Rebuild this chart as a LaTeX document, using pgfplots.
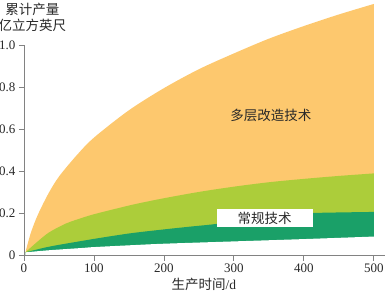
\documentclass[border=0pt]{standalone}
\usepackage{fontspec}
\setmainfont{Liberation Serif}
\newfontfamily\cjk{Noto Sans CJK SC}
\usepackage{pgfplots}
\pgfplotsset{compat=1.18}
\definecolor{orangeA}{RGB}{253,200,110}
\definecolor{lgreen}{RGB}{172,205,58}
\definecolor{dgreen}{RGB}{26,160,104}
\definecolor{axgray}{RGB}{130,130,130}
\definecolor{txt}{RGB}{40,40,40}
\begin{document}
\begin{tikzpicture}
\path[use as bounding box] (-24pt,-36.5pt) rectangle (363pt,255.5pt);
\begin{axis}[
  anchor=origin, at={(0pt,0pt)},
  scale only axis, width=361pt, height=210.5pt,
  xmin=0, xmax=516, ymin=0, ymax=1,
  axis lines*=left,
  axis line style={axgray, line width=0.8pt, -},
  clip=false, axis on top,
  xtick={0,100,200,300,400,500},
  ytick={0,0.2,0.4,0.6,0.8,1.0},
  yticklabels={0,0.2,0.4,0.6,0.8,1.0},
  tick align=outside, major tick length=5pt,
  tick style={axgray, line width=0.8pt},
  tick label style={font=\fontsize{13}{15}\selectfont, text=txt},
  /pgf/number format/assume math mode=true,
]
\addplot[fill=orangeA, draw=none, smooth] coordinates {
(2,0.015)(10,0.11)(20,0.195)(35,0.295)(50,0.375)(75,0.475)(100,0.56)(150,0.69)(200,0.795)(250,0.885)(300,0.96)(350,1.03)(400,1.09)(450,1.145)(500,1.195)} \closedcycle;
\addplot[fill=lgreen, draw=none, smooth] coordinates {
(2,0.015)(20,0.068)(36,0.11)(60,0.152)(84,0.18)(100,0.196)(131,0.222)(160,0.245)(200,0.272)(250,0.302)(300,0.327)(350,0.348)(400,0.364)(450,0.378)(500,0.39)} \closedcycle;
\addplot[fill=dgreen, draw=none, smooth] coordinates {
(2,0.015)(36,0.042)(84,0.07)(100,0.079)(151,0.105)(200,0.124)(237,0.137)(275,0.15)(320,0.172)(370,0.193)(413,0.202)(500,0.207)} \closedcycle;
\addplot[fill=white, draw=none, smooth] coordinates {
(2,0.015)(36,0.025)(84,0.036)(100,0.04)(160,0.05)(200,0.056)(300,0.067)(400,0.078)(500,0.09)} \closedcycle;
\node[font=\cjk\fontsize{13.5}{16}\selectfont, text=txt] at (axis cs:353,0.667) {多层改造技术};
\node[fill=white, inner sep=0pt, minimum width=96pt, minimum height=17.5pt, font=\cjk\fontsize{13.5}{16}\selectfont, text=txt] at (axis cs:344,0.178) {常规技术};
\node[align=center, font=\cjk\fontsize{13.5}{16}\selectfont, text=txt] at (axis cs:12,1.133) {累计产量\\亿立方英尺};
\node[font=\fontsize{13.5}{16}\selectfont, text=txt, yshift=-28.5pt] at (axis cs:257,0) {{\cjk 生产时间}/d};
\end{axis}
\end{tikzpicture}
\end{document}
